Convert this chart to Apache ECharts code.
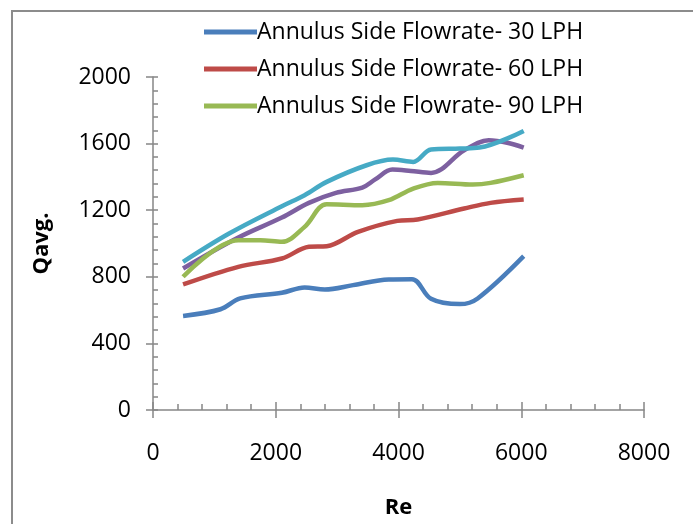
<!DOCTYPE html>
<html>
<head>
<meta charset="utf-8">
<script src="https://cdn.jsdelivr.net/npm/echarts@6/dist/echarts.min.js"></script>
<style>
  html, body { margin: 0; padding: 0; background: #fff; }
  #chart { width: 693px; height: 524px; }
</style>
</head>
<body>
<div id="chart"></div>
<script>
// Re values and Qavg readings for each annulus flowrate
const names = [
  'Annulus Side Flowrate- 30 LPH',
  'Annulus Side Flowrate- 60 LPH',
  'Annulus Side Flowrate- 90 LPH',
  'Annulus Side Flowrate- 120 LPH',
  'Annulus Side Flowrate- 150 LPH'
];
const legendNames = names.slice(0, 3);

const re30 = [490, 1100, 1420, 2100, 2470, 2800, 3260, 3840, 4220, 4530, 5000, 5290, 6040];
const q30  = [565, 605, 670, 704, 736, 724, 750, 784, 786, 668, 636, 670, 924];

const re60 = [490, 1390, 2100, 2540, 2830, 3340, 3980, 4310, 5070, 5500, 6040];
const q60  = [754, 860, 910, 980, 984, 1070, 1136, 1144, 1210, 1244, 1264];

const re90 = [490, 1390, 1750, 2100, 2470, 2830, 3410, 3840, 4240, 4640, 5210, 5500, 6040];
const q90  = [800, 1020, 1020, 1010, 1100, 1236, 1230, 1260, 1330, 1364, 1354, 1364, 1410];

const re120 = [490, 1390, 2100, 2540, 2980, 3410, 3620, 3900, 4200, 4530, 5070, 5470, 5790, 6040];
const q120  = [850, 1036, 1156, 1244, 1304, 1336, 1385, 1444, 1436, 1424, 1560, 1620, 1604, 1576];

const re150 = [490, 1240, 2100, 2470, 2830, 3480, 3910, 4240, 4530, 5000, 5320, 6040];
const q150  = [890, 1060, 1224, 1290, 1370, 1470, 1504, 1490, 1564, 1570, 1576, 1676];

const xTicks = { min: 0, max: 8000, interval: 2000 };
const yTicks = { min: 0, max: 2000, interval: 400 };

const colors = ['#4a7ebb', '#be4b48', '#98b954', '#7d60a0', '#46aac5'];
const reSets = [re30, re60, re90, re120, re150];
const qSets = [q30, q60, q90, q120, q150];

const pairs = (xs, ys) => xs.map((x, i) => [x, ys[i]]);

const chart = echarts.init(document.getElementById('chart'));
const axisColor = '#868686';
const font = 'Open Sans';

const baseAxis = {
  type: 'value',
  axisLine: { show: true, lineStyle: { color: axisColor, width: 1.5 } },
  splitLine: { show: false }
};

chart.setOption({
  backgroundColor: '#fff',
  animation: false,
  textStyle: { fontFamily: font },
  graphic: [{
    type: 'rect',
    shape: { x: 12, y: 11, width: 700, height: 530 },
    style: { fill: 'none', stroke: '#8c8c8c', lineWidth: 2 },
    z: -1
  }],
  legend: {
    data: legendNames,
    orient: 'vertical',
    left: 199,
    top: 12,
    itemWidth: 53,
    itemHeight: 5,
    itemGap: 7,
    icon: 'rect',
    textStyle: { fontSize: 23, lineHeight: 30, color: '#000', fontFamily: font, padding: [0, 0, 0, -5] }
  },
  grid: { left: 153, right: 49, top: 77, bottom: 114 },
  xAxis: [
    Object.assign({}, baseAxis, xTicks, {
      name: 'Re',
      nameLocation: 'middle',
      nameGap: 87,
      nameTextStyle: { fontSize: 22, fontWeight: 'bold', color: '#000' },
      axisTick: { show: true, length: 8, lineStyle: { color: axisColor, width: 1.5 } },
      axisLabel: { fontSize: 23, color: '#000', margin: 32, formatter: v => String(v) }
    }),
    Object.assign({}, baseAxis, xTicks, {
      position: 'bottom',
      axisLine: { show: false },
      axisTick: { show: true, inside: true, length: 8, lineStyle: { color: axisColor, width: 1.5 } },
      minorTick: { show: true, splitNumber: 5, length: 6, lineStyle: { color: axisColor, width: 1.5 } },
      axisLabel: { show: false }
    })
  ],
  yAxis: [
    Object.assign({}, baseAxis, yTicks, {
      name: 'Qavg.',
      nameLocation: 'middle',
      nameGap: 100,
      nameTextStyle: { fontSize: 22, fontWeight: 'bold', color: '#000' },
      axisTick: { show: true, length: 7, lineStyle: { color: axisColor, width: 1.5 } },
      axisLabel: { fontSize: 23, color: '#000', margin: 22, formatter: v => String(v) }
    }),
    Object.assign({}, baseAxis, yTicks, {
      position: 'left',
      axisLine: { show: false },
      axisTick: { show: true, inside: true, length: 5, lineStyle: { color: axisColor, width: 1.5 } },
      minorTick: { show: true, splitNumber: 5, length: 5, lineStyle: { color: axisColor, width: 1.5 } },
      axisLabel: { show: false }
    })
  ],
  series: names.map((name, i) => ({
    name: name,
    type: 'line',
    xAxisIndex: 0,
    yAxisIndex: 0,
    smooth: 0.35,
    symbol: 'none',
    data: pairs(reSets[i], qSets[i]),
    itemStyle: { color: colors[i] },
    lineStyle: { color: colors[i], width: 4.5 },
    z: 2 + (i === 3 ? 0 : i)
  }))
});
</script>
</body>
</html>
